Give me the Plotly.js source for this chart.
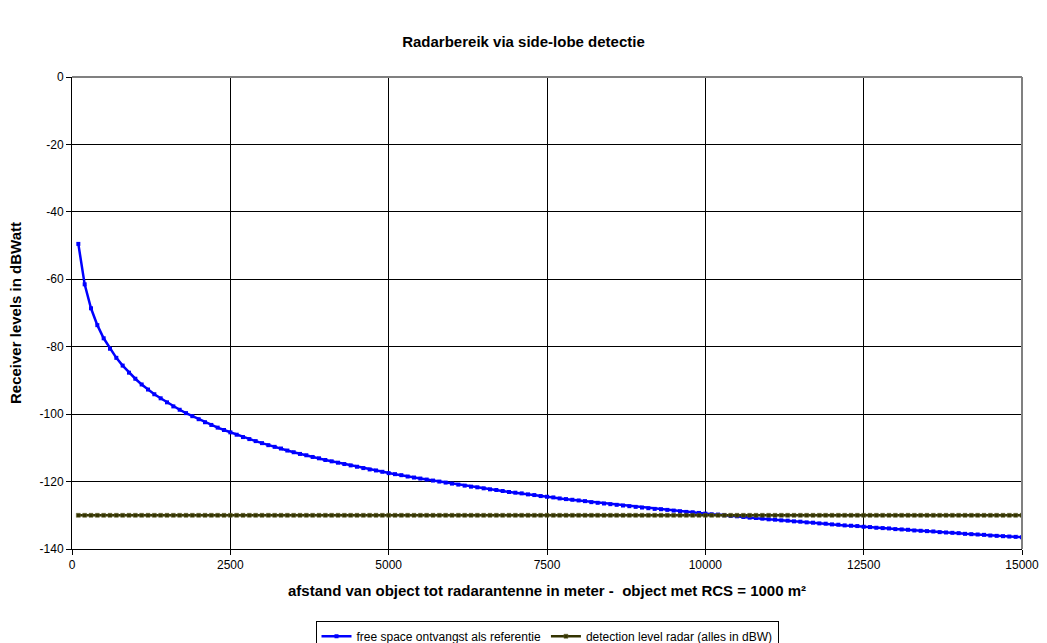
<!DOCTYPE html>
<html>
<head>
<meta charset="utf-8">
<script src="https://cdn.plot.ly/plotly-3.0.1.min.js"></script>
<style>html,body{margin:0;padding:0;background:#fff;}#chart{width:1047px;height:643px;}</style>
</head>
<body>
<div id="chart"></div>
<script>
// distance to object (m)
const distance = [
  100,200,300,400,500,600,700,800,900,1000,
  1100,1200,1300,1400,1500,1600,1700,1800,1900,2000,
  2100,2200,2300,2400,2500,2600,2700,2800,2900,3000,
  3100,3200,3300,3400,3500,3600,3700,3800,3900,4000,
  4100,4200,4300,4400,4500,4600,4700,4800,4900,5000,
  5100,5200,5300,5400,5500,5600,5700,5800,5900,6000,
  6100,6200,6300,6400,6500,6600,6700,6800,6900,7000,
  7100,7200,7300,7400,7500,7600,7700,7800,7900,8000,
  8100,8200,8300,8400,8500,8600,8700,8800,8900,9000,
  9100,9200,9300,9400,9500,9600,9700,9800,9900,10000,
  10100,10200,10300,10400,10500,10600,10700,10800,10900,11000,
  11100,11200,11300,11400,11500,11600,11700,11800,11900,12000,
  12100,12200,12300,12400,12500,12600,12700,12800,12900,13000,
  13100,13200,13300,13400,13500,13600,13700,13800,13900,14000,
  14100,14200,14300,14400,14500,14600,14700,14800,14900,15000
];
// free space reception (dBW)
const freeSpace = [
  -49.5,-61.5,-68.6,-73.6,-77.5,-80.6,-83.3,-85.6,-87.7,-89.5,
  -91.2,-92.7,-94.1,-95.3,-96.5,-97.7,-98.7,-99.7,-100.6,-101.5,
  -102.4,-103.2,-104.0,-104.7,-105.4,-106.1,-106.8,-107.4,-108.0,-108.6,
  -109.2,-109.7,-110.2,-110.8,-111.3,-111.8,-112.2,-112.7,-113.1,-113.6,
  -114.0,-114.4,-114.8,-115.2,-115.6,-116.0,-116.4,-116.7,-117.1,-117.5,
  -117.8,-118.1,-118.5,-118.8,-119.1,-119.4,-119.7,-120.0,-120.3,-120.6,
  -120.9,-121.2,-121.5,-121.7,-122.0,-122.3,-122.5,-122.8,-123.1,-123.3,
  -123.5,-123.8,-124.0,-124.3,-124.5,-124.7,-125.0,-125.2,-125.4,-125.6,
  -125.8,-126.1,-126.3,-126.5,-126.7,-126.9,-127.1,-127.3,-127.5,-127.7,
  -127.9,-128.1,-128.2,-128.4,-128.6,-128.8,-129.0,-129.1,-129.3,-129.5,
  -129.7,-129.8,-130.0,-130.2,-130.3,-130.5,-130.7,-130.8,-131.0,-131.2,
  -131.3,-131.5,-131.6,-131.8,-131.9,-132.1,-132.2,-132.4,-132.5,-132.7,
  -132.8,-133.0,-133.1,-133.2,-133.4,-133.5,-133.7,-133.8,-133.9,-134.1,
  -134.2,-134.3,-134.5,-134.6,-134.7,-134.8,-135.0,-135.1,-135.2,-135.3,
  -135.5,-135.6,-135.7,-135.8,-136.0,-136.1,-136.2,-136.3,-136.4,-136.5
];
// detection level radar (dBW)
const detection = [
  -130,-130,-130,-130,-130,-130,-130,-130,-130,-130,
  -130,-130,-130,-130,-130,-130,-130,-130,-130,-130,
  -130,-130,-130,-130,-130,-130,-130,-130,-130,-130,
  -130,-130,-130,-130,-130,-130,-130,-130,-130,-130,
  -130,-130,-130,-130,-130,-130,-130,-130,-130,-130,
  -130,-130,-130,-130,-130,-130,-130,-130,-130,-130,
  -130,-130,-130,-130,-130,-130,-130,-130,-130,-130,
  -130,-130,-130,-130,-130,-130,-130,-130,-130,-130,
  -130,-130,-130,-130,-130,-130,-130,-130,-130,-130,
  -130,-130,-130,-130,-130,-130,-130,-130,-130,-130,
  -130,-130,-130,-130,-130,-130,-130,-130,-130,-130,
  -130,-130,-130,-130,-130,-130,-130,-130,-130,-130,
  -130,-130,-130,-130,-130,-130,-130,-130,-130,-130,
  -130,-130,-130,-130,-130,-130,-130,-130,-130,-130,
  -130,-130,-130,-130,-130,-130,-130,-130,-130,-130
];
const xTicks = [0, 2500, 5000, 7500, 10000, 12500, 15000];
const yTicks = [0, -20, -40, -60, -80, -100, -120, -140];
const seriesNames = ['free space ontvangst als referentie', 'detection level radar (alles in dBW)'];

const FONT = 'Liberation Sans, Arial, sans-serif';

const traces = [
  {
    x: distance, y: freeSpace, name: seriesNames[0], type: 'scatter', mode: 'lines+markers',
    line: {color: '#0000FF', width: 2.5}, marker: {color: '#0000FF', size: 4, symbol: 'square'}
  },
  {
    x: distance, y: detection, name: seriesNames[1], type: 'scatter', mode: 'lines+markers',
    line: {color: '#333300', width: 2.5}, marker: {color: '#333300', size: 4, symbol: 'square',
      line: {color: '#666633', width: 0.5}}
  }
];

const layout = {
  width: 1047, height: 643,
  paper_bgcolor: '#fff', plot_bgcolor: '#fff',
  margin: {l: 72, r: 25, t: 77, b: 94, autoexpand: false},
  font: {family: FONT, size: 12, color: '#000'},
  title: {
    text: '<b>Radarbereik via side-lobe detectie</b>',
    font: {family: FONT, size: 15, color: '#000'},
    x: 0.5, xref: 'container', xanchor: 'center',
    y: 1 - 42/643, yref: 'container', yanchor: 'middle'
  },
  xaxis: {
    range: [0, 15000], tickvals: xTicks, ticktext: xTicks.map(String),
    showgrid: true, gridcolor: '#000', gridwidth: 1,
    showline: true, linecolor: '#000', linewidth: 1,
    ticks: 'outside', ticklen: 5, tickcolor: '#000',
    zeroline: false, automargin: false,
    tickfont: {family: FONT, size: 12},
    title: {text: '<b>afstand van object tot radarantenne in meter -  object met RCS = 1000 m²</b>',
            font: {family: FONT, size: 15}, standoff: 14}
  },
  yaxis: {
    range: [-140, 0], tickvals: yTicks, ticktext: yTicks.map(String),
    showgrid: true, gridcolor: '#000', gridwidth: 1,
    showline: true, linecolor: '#000', linewidth: 1,
    ticks: 'outside', ticklen: 5, tickcolor: '#000',
    zeroline: false, automargin: false,
    tickfont: {family: FONT, size: 12},
    title: {text: '<b>Receiver levels in dBWatt</b>', font: {family: FONT, size: 15}, standoff: 14}
  },
  shapes: [
    {type: 'line', xref: 'x domain', yref: 'y domain', x0: 0, x1: 1, y0: 1, y1: 1, line: {color: '#808080', width: 2}},
    {type: 'line', xref: 'x domain', yref: 'y domain', x0: 1, x1: 1, y0: 0, y1: 1, line: {color: '#808080', width: 2}}
  ],
  showlegend: true,
  legend: {
    orientation: 'h', x: 0.5, xanchor: 'center', y: -0.152, yanchor: 'top',
    bordercolor: '#000', borderwidth: 1, bgcolor: '#fff',
    font: {family: FONT, size: 12}, itemwidth: 30, tracegroupgap: 0
  }
};

Plotly.newPlot('chart', traces, layout, {displayModeBar: false, responsive: false});
</script>
</body>
</html>
